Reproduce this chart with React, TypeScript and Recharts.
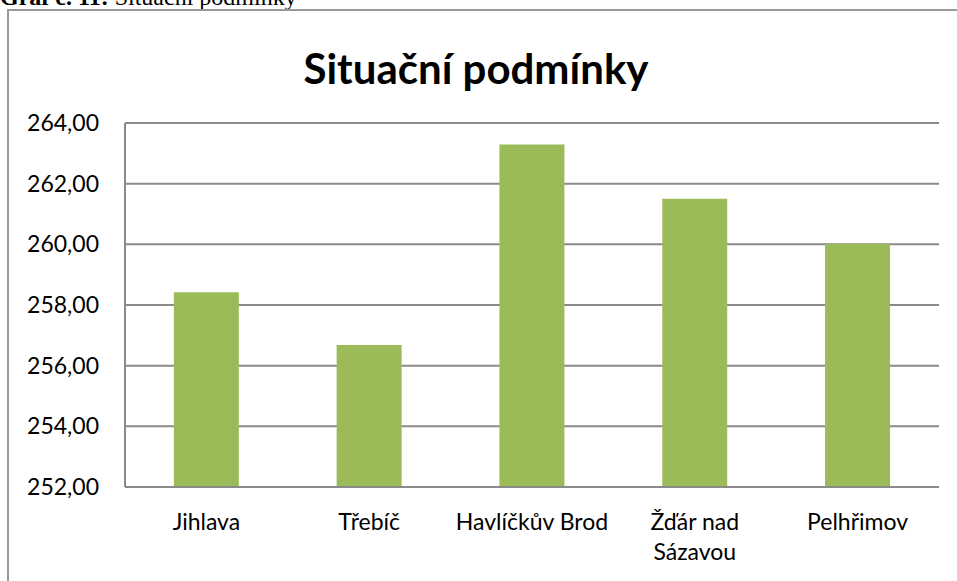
import React from 'react'
import { Bar, BarChart, CartesianGrid, XAxis, YAxis } from 'recharts'

// okresy a hodnoty
const okresy: string[] = ['Jihlava', 'Třebíč', 'Havlíčkův Brod', 'Žďár nad Sázavou', 'Pelhřimov']
const hodnoty: number[] = [258.42, 256.68, 263.29, 261.5, 260.02]
const popisky: string[][] = [['Jihlava'], ['Třebíč'], ['Havlíčkův Brod'], ['Žďár nad', 'Sázavou'], ['Pelhřimov']]
const osaY: number[] = [252, 254, 256, 258, 260, 262, 264]

const nadpis = 'Situační podmínky'
const popisGrafu = 'Graf č. 11:'

const data = okresy.map((okres, i) => ({ name: okres, hodnota: hodnoty[i] }))

const pismo = 'Lato, "Open Sans", sans-serif'

const PopisX = (props: any) => {
  const { x, y, index } = props
  const radky = popisky[index] || [props.payload.value]
  return (
    <text x={x} y={y} textAnchor="middle" fontSize={23} fontFamily={pismo} fill="#000">
      {radky.map((r, i) => (
        <tspan key={i} x={x} dy={i === 0 ? 0 : 30}>{r}</tspan>
      ))}
    </text>
  )
}

const App = () => {
  return (
    <div style={{ position: 'absolute', left: 0, top: 0, width: 957, height: 581, overflow: 'hidden', background: '#fff' }}>
      <div style={{ position: 'absolute', left: 0, top: -13, fontFamily: '"Liberation Serif", serif', fontSize: 24, lineHeight: '20px', whiteSpace: 'nowrap' }}>
        <b>{popisGrafu}</b> {nadpis}
      </div>
      <div style={{ position: 'absolute', left: 7, top: 9, width: 1000, height: 700, border: '2px solid #9a9a9a' }} />
      <div style={{ position: 'absolute', left: 0, top: 47, width: 952, textAlign: 'center', fontFamily: pismo, fontWeight: 700, fontSize: 42, lineHeight: '42px' }}>
        {nadpis}
      </div>
      <div style={{ position: 'absolute', left: 0, top: 0 }}>
        <BarChart width={957} height={581} data={data} margin={{ top: 123, right: 18, left: 0, bottom: 0 }} barCategoryGap="30%">
          <CartesianGrid vertical={false} stroke="#8a8a8a" strokeWidth={2} />
          <XAxis
            dataKey="name"
            height={94}
            tickLine={false}
            tickSize={0}
            tickMargin={43}
            axisLine={{ stroke: '#8a8a8a', strokeWidth: 2 }}
            tick={<PopisX />}
            interval={0}
          />
          <YAxis
            width={125}
            domain={[252, 264]}
            ticks={osaY}
            tickLine={false}
            tickSize={0}
            tickMargin={26}
            axisLine={{ stroke: '#8a8a8a', strokeWidth: 2 }}
            tick={{ fontSize: 23, fontFamily: pismo, fill: '#000' }}
            tickFormatter={(v: number) => v.toFixed(2).replace('.', ',')}
          />
          <Bar dataKey="hodnota" fill="#9bbb59" isAnimationActive={false} />
        </BarChart>
      </div>
    </div>
  )
}

export default App
